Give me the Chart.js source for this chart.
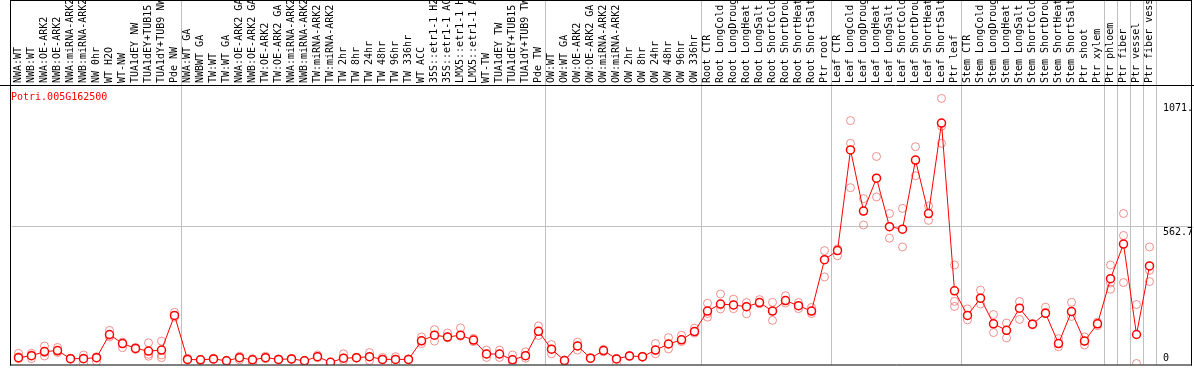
<!DOCTYPE html>
<html>
<head>
<meta charset="utf-8">
<script src="https://cdn.jsdelivr.net/npm/chart.js@4"></script>
<style>
  body { margin: 0; background: #fff; }
  #wrap { width: 1194px; height: 370px; }
</style>
</head>
<body>
<div id="wrap"><canvas id="expr" width="1194" height="370"></canvas></div>
<script>
const geneId = "Potri.005G162500";

const conditions = [
  "NWA:WT", "NWB:WT", "NWA:OE-ARK2", "NWB:OE-ARK2", "NWA:miRNA-ARK2", "NWB:miRNA-ARK2",
  "NW 0hr", "WT H2O", "WT-NW", "TUA1dEY NW", "TUA1dEY+TUB15 NW", "TUA1dY+TUB9 NW", "Pde NW",
  "NWA:WT GA", "NWBWT GA", "TW:WT", "TW:WT GA", "NWA:OE-ARK2 GA", "NWB:OE-ARK2 GA",
  "TW:OE-ARK2", "TW:OE-ARK2 GA", "NWA:miRNA-ARK2", "NWB:miRNA-ARK2", "TW:miRNA-ARK2", "TW:miRNA-ARK2",
  "TW 2hr", "TW 8hr", "TW 24hr", "TW 48hr", "TW 96hr", "TW 336hr", "WT ACC",
  "35S::etr1-1 H2O", "35S::etr1-1 ACC", "LMX5::etr1-1 H2O", "LMX5::etr1-1 ACC",
  "WT-TW", "TUA1dEY TW", "TUA1dEY+TUB15 TW", "TUA1dY+TUB9 TW", "Pde TW",
  "OW:WT", "OW:WT GA", "OW:OE-ARK2", "OW:OE-ARK2 GA", "OW:miRNA-ARK2", "OW:miRNA-ARK2",
  "OW 2hr", "OW 8hr", "OW 24hr", "OW 48hr", "OW 96hr", "OW 336hr",
  "Root CTR", "Root LongCold", "Root LongDrought", "Root LongHeat", "Root LongSalt",
  "Root ShortCold", "Root ShortDrought", "Root ShortHeat", "Root ShortSalt", "Ptr root",
  "Leaf CTR", "Leaf LongCold", "Leaf LongDrought", "Leaf LongHeat", "Leaf LongSalt",
  "Leaf ShortCold", "Leaf ShortDrought", "Leaf ShortHeat", "Leaf ShortSalt", "Ptr leaf",
  "Stem CTR", "Stem LongCold", "Stem LongDrought", "Stem LongHeat", "Stem LongSalt",
  "Stem ShortCold", "Stem ShortDrought", "Stem ShortHeat", "Stem ShortSalt", "Ptr shoot",
  "Ptr xylem", "Ptr phloem", "Ptr fiber", "Ptr vessel", "Ptr fiber vessel"
];

// mean expression per condition
const means = [
  24, 32, 49, 53, 20, 20, 24, 119, 82, 62, 51, 55, 197,
  17, 15, 19, 11, 24, 15, 24, 17, 19, 11, 28, 5, 22, 24, 28, 17, 17, 17, 93,
  116, 109, 116, 96, 39, 39, 15, 32, 132,
  59, 12, 72, 22, 53, 19, 31, 28, 55, 80, 97, 131,
  215, 244, 240, 233, 250, 215, 258, 237, 215, 426,
  463, 876, 625, 760, 561, 551, 834, 615, 986, 298,
  197, 268, 163, 136, 227, 161, 206, 82, 213, 92, 163,
  348, 490, 119, 400
];

// replicate values
const rep1 = [
  42, 42, 72, 66, 20, 35, 24, 136, 82, 62, 85, 92, 210,
  22, 15, 22, 11, 30, 20, 30, 17, 19, 11, 35, 5, 40, 24, 45, 25, 28, 17, 109,
  139, 125, 146, 103, 55, 55, 35, 48, 154,
  78, 12, 88, 22, 58, 19, 31, 28, 82, 106, 116, 145,
  247, 285, 264, 250, 262, 251, 278, 250, 230, 463,
  470, 996, 676, 849, 615, 636, 889, 646, 1087, 404,
  224, 301, 201, 166, 254, 161, 231, 102, 251, 109, 170,
  404, 615, 242, 478
];
const rep2 = [
  20, 20, 31, 50, 18, 1, 8, 109, 65, 66, 38, 24, 190,
  15, 13, 19, 9, 15, 0, 20, 15, 17, 9, 24, 0, 12, 22, 12, 17, 0, 15, 82,
  92, 109, 112, 90, 25, 25, 5, 22, 115,
  40, 10, 55, 20, 48, 0, 29, 26, 40, 60, 90, 125,
  190, 224, 225, 204, 245, 177, 248, 225, 205, 355,
  442, 903, 568, 683, 514, 478, 770, 587, 973, 255,
  179, 244, 127, 105, 181, 158, 206, 69, 193, 76, 155,
  305, 525, 0, 382
];
const rep3 = [
  28, 35, 45, 45, 22, 22, 28, 115, 88, 58, 30, 35, 197,
  17, 17, 17, 13, 24, 15, 24, 19, 21, 13, 28, 3, 22, 26, 28, 15, 17, 19, 93,
  116, 105, 116, 96, 39, 39, 15, 32, 132,
  59, 14, 72, 24, 53, 21, 33, 30, 55, 80, 98, 131,
  205, 240, 240, 233, 250, 215, 258, 237, 215, 426,
  463, 721, 625, 760, 561, 551, 834, 615, 903, 234,
  197, 268, 163, 136, 227, 164, 210, 82, 213, 92, 163,
  330, 332, null, 336
];

const yTicks = [0, 562.7, 1071.6];
const yLabels = ["0", "562.7", "1071."];
// condition index where a new tissue group starts
const groupStarts = [13, 41, 53, 63, 73, 84, 85, 86, 87];

const monoFont = { family: "DejaVu Sans Mono", size: 10 };

const framePlugin = {
  id: "frame",
  afterDraw(chart) {
    const c = chart.ctx;
    const area = chart.chartArea;
    const y = chart.scales.y;
    c.save();
    c.font = "10px 'DejaVu Sans Mono'";
    c.textAlign = "left";
    c.fillStyle = "#000";
    yTicks.forEach((v, i) => {
      const py = y.getPixelForValue(v);
      if (py + 12 > area.bottom) {
        c.textBaseline = "bottom";
        c.fillText(yLabels[i], area.right + 7, area.bottom - 1);
      } else {
        c.textBaseline = "top";
        c.fillText(yLabels[i], area.right + 7, py + 1);
      }
    });
    c.fillStyle = "#ff0000";
    c.textBaseline = "middle";
    c.fillText(geneId, 11, 97);

    c.strokeStyle = "#000";
    c.lineWidth = 1;
    c.beginPath();
    c.moveTo(10.5, 0);
    c.lineTo(10.5, area.bottom + 1);
    c.moveTo(1191.5, 0);
    c.lineTo(1191.5, area.bottom + 1);
    c.moveTo(10, 0.5);
    c.lineTo(1192, 0.5);
    c.moveTo(0, area.top + 0.5);
    c.lineTo(1194, area.top + 0.5);
    c.moveTo(10, area.bottom + 0.5);
    c.lineTo(1192, area.bottom + 0.5);
    c.stroke();
    c.restore();
  }
};

function repSet(values) {
  return {
    data: values,
    showLine: false,
    pointRadius: 4,
    pointBorderWidth: 1,
    pointBorderColor: "rgba(235,95,95,0.7)",
    pointBackgroundColor: "rgba(0,0,0,0)",
    order: 1
  };
}

const ctx = document.getElementById("expr").getContext("2d");
const chart = new Chart(ctx, {
  type: "line",
  data: {
    labels: conditions,
    datasets: [
      {
        data: means,
        borderColor: "#ff0000",
        borderWidth: 1,
        tension: 0,
        pointRadius: 4,
        pointBorderWidth: 1.5,
        pointBorderColor: "#ff0000",
        pointBackgroundColor: "#ffffff",
        order: 0
      },
      repSet(rep1),
      repSet(rep2),
      repSet(rep3)
    ]
  },
  options: {
    responsive: false,
    animation: false,
    devicePixelRatio: 1,
    layout: { padding: { left: 12, right: 2, top: 0, bottom: 2 } },
    plugins: { legend: { display: false }, tooltip: { enabled: false } },
    scales: {
      x: {
        position: "top",
        offset: true,
        grid: {
          offset: true,
          tickLength: 85,
          color: c => (c.type !== "tick" || groupStarts.includes(c.index)) ? "#c0c0c0" : "rgba(0,0,0,0)"
        },
        border: { display: false },
        ticks: {
          autoSkip: false,
          minRotation: 90,
          maxRotation: 90,
          padding: -83,
          labelOffset: 12,
          font: monoFont,
          color: "#000"
        },
        afterFit: s => { s.height = 85; }
      },
      y: {
        position: "right",
        min: -4,
        max: 1142,
        afterBuildTicks: s => { s.ticks = yTicks.map(v => ({ value: v })); },
        grid: {
          tickLength: 36,
          color: c => (c.tick && c.tick.value === 562.7) ? "#c0c0c0" : "rgba(0,0,0,0)"
        },
        border: { display: false },
        ticks: { display: false },
        afterFit: s => { s.width = 36; }
      }
    }
  },
  plugins: [framePlugin]
});
</script>
</body>
</html>
